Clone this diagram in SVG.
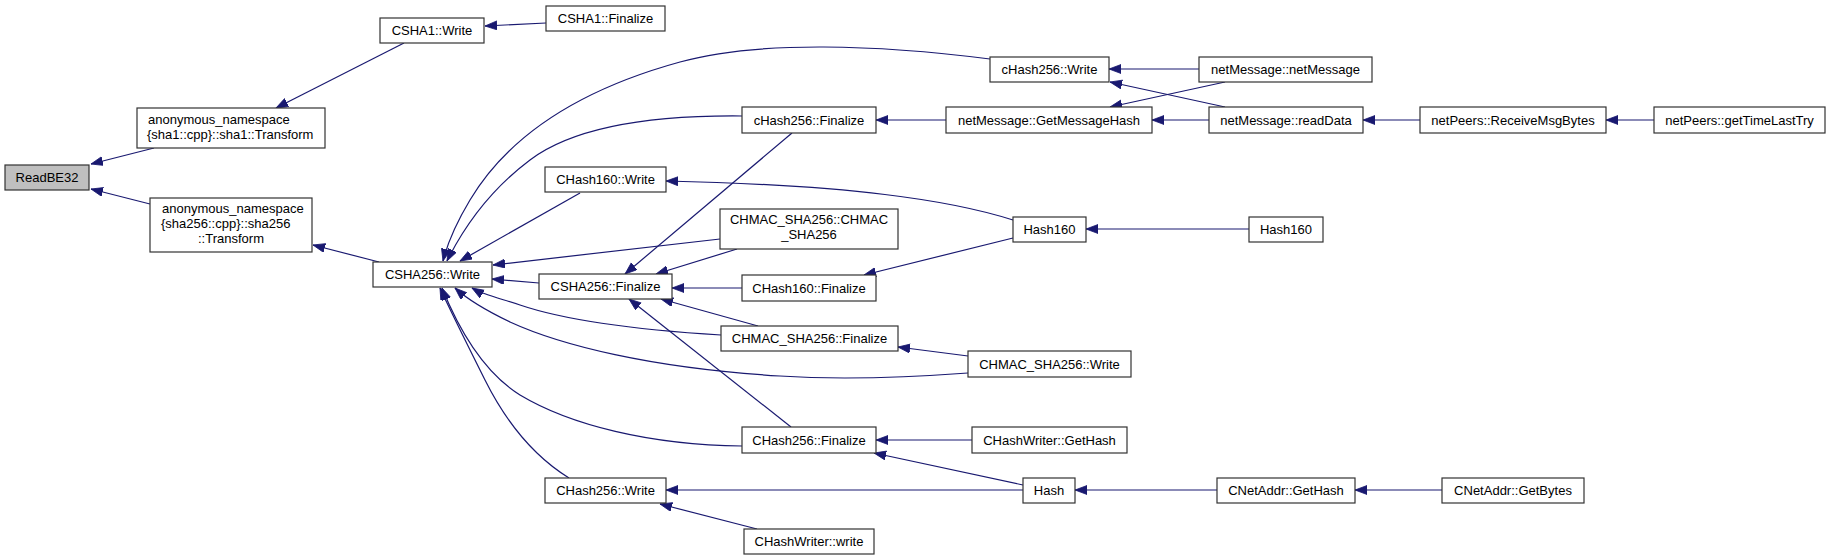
<svg xmlns="http://www.w3.org/2000/svg" width="1831" height="560" viewBox="0 0 1831 560">
<style>
.n rect{fill:#ffffff;stroke:#333333;stroke-width:1.2}
.n text{font-family:"Liberation Sans",Arial,Helvetica,sans-serif;font-size:13px;fill:#000000;text-anchor:middle}
.n text.l{text-anchor:start}
#edges path{fill:none;stroke:#191970;stroke-width:1.2;marker-end:url(#ah)}
</style>
<defs>
<marker id="ah" markerUnits="userSpaceOnUse" markerWidth="13" markerHeight="10" refX="12" refY="4.5" orient="auto">
<path d="M0,0 L12,4.5 L0,9 z" fill="#191970" stroke="#191970" stroke-width="0.8"/>
</marker>
</defs>
<rect width="1831" height="560" fill="#ffffff"/>
<g id="edges">
<path d="M154,148 L91,164"/>
<path d="M150,204 L91,189"/>
<path d="M404,43 L276,108"/>
<path d="M546,23 L485,26"/>
<path d="M379,262 L313,245"/>
<path d="M990,59 C880,45 760,40 680,62 C560,95 500,150 470,200 C455,225 447,245 443,261"/>
<path d="M742,116 C640,115 570,130 530,160 C490,190 465,225 447,261"/>
<path d="M580,193 L460,261"/>
<path d="M720,239 L493,265"/>
<path d="M539,283 L492,279"/>
<path d="M721,335 C640,330 570,322 520,305 C495,297 482,294 472,288"/>
<path d="M968,373 C900,378 840,380 780,376 C650,368 560,345 510,322 C485,310 466,298 455,288"/>
<path d="M742,446 C650,445 570,425 520,395 C480,370 455,320 442,288"/>
<path d="M569,478 C540,460 510,430 485,380 C465,340 450,310 440,288"/>
<path d="M792,133 L625,274"/>
<path d="M737,249 L656,274"/>
<path d="M742,288 L672,288"/>
<path d="M758,326 L661,299"/>
<path d="M791,427 L629,299"/>
<path d="M1199,69 L1109,69"/>
<path d="M1225,107 L1110,82"/>
<path d="M946,120 L876,120"/>
<path d="M1209,120 L1152,120"/>
<path d="M1225,82 L1110,107"/>
<path d="M1420,120 L1363,120"/>
<path d="M1654,120 L1606,120"/>
<path d="M1013,220 C950,200 850,185 666,181"/>
<path d="M1249,229 L1086,229"/>
<path d="M1013,238 L864,275"/>
<path d="M968,356 L898,347"/>
<path d="M972,440 L876,440"/>
<path d="M1023,485 L874,453"/>
<path d="M1023,490 L666,490"/>
<path d="M1217,490 L1075,490"/>
<path d="M1442,490 L1355,490"/>
<path d="M757,529 L660,504"/>
</g>
<g id="n_readbe32" class="n"><rect x="5" y="165" width="84" height="25" style="fill:#bfbfbf"/><text x="47" y="182">ReadBE32</text></g>
<g id="n_csha1_write" class="n"><rect x="380" y="18" width="104" height="25"/><text x="432" y="35">CSHA1::Write</text></g>
<g id="n_csha1_finalize" class="n"><rect x="546" y="6" width="119" height="25"/><text x="605.5" y="23">CSHA1::Finalize</text></g>
<g id="n_sha1_transform" class="n"><rect x="137" y="108" width="188" height="40"/><text class="l" x="148" y="124">anonymous_namespace</text><text class="l" x="147" y="139">{sha1::cpp}::sha1::Transform</text></g>
<g id="n_sha256_transform" class="n"><rect x="150" y="198" width="162" height="54"/><text class="l" x="162" y="213">anonymous_namespace</text><text class="l" x="161" y="228">{sha256::cpp}::sha256</text><text x="231" y="243">::Transform</text></g>
<g id="n_csha256_write" class="n"><rect x="373" y="262" width="119" height="25"/><text x="432.5" y="279">CSHA256::Write</text></g>
<g id="n_chash160_write" class="n"><rect x="545" y="167" width="121" height="25"/><text x="605.5" y="184">CHash160::Write</text></g>
<g id="n_csha256_finalize" class="n"><rect x="539" y="274" width="133" height="25"/><text x="605.5" y="291">CSHA256::Finalize</text></g>
<g id="n_chash256_write" class="n"><rect x="545" y="478" width="121" height="25"/><text x="605.5" y="495">CHash256::Write</text></g>
<g id="n_chash256l_write" class="n"><rect x="990" y="57" width="119" height="25"/><text x="1049.5" y="74">cHash256::Write</text></g>
<g id="n_chash256l_finalize" class="n"><rect x="742" y="107" width="134" height="26"/><text x="809" y="125">cHash256::Finalize</text></g>
<g id="n_getmessagehash" class="n"><rect x="946" y="107" width="206" height="26"/><text x="1049" y="125">netMessage::GetMessageHash</text></g>
<g id="n_netmessage" class="n"><rect x="1199" y="57" width="173" height="25"/><text x="1285.5" y="74">netMessage::netMessage</text></g>
<g id="n_readdata" class="n"><rect x="1209" y="107" width="154" height="26"/><text x="1286" y="125">netMessage::readData</text></g>
<g id="n_receivemsgbytes" class="n"><rect x="1420" y="107" width="186" height="26"/><text x="1513" y="125">netPeers::ReceiveMsgBytes</text></g>
<g id="n_gettimelasttry" class="n"><rect x="1654" y="107" width="171" height="26"/><text x="1739.5" y="125">netPeers::getTimeLastTry</text></g>
<g id="n_chmac_ctor" class="n"><rect x="720" y="209" width="178" height="40"/><text x="809" y="224">CHMAC_SHA256::CHMAC</text><text x="809" y="239">_SHA256</text></g>
<g id="n_hash160_mid" class="n"><rect x="1013" y="217" width="73" height="25"/><text x="1049.5" y="234">Hash160</text></g>
<g id="n_hash160_right" class="n"><rect x="1249" y="217" width="74" height="25"/><text x="1286" y="234">Hash160</text></g>
<g id="n_chash160_finalize" class="n"><rect x="742" y="275" width="134" height="26"/><text x="809" y="293">CHash160::Finalize</text></g>
<g id="n_chmac_finalize" class="n"><rect x="721" y="326" width="177" height="25"/><text x="809.5" y="343">CHMAC_SHA256::Finalize</text></g>
<g id="n_chmac_write" class="n"><rect x="968" y="351" width="163" height="26"/><text x="1049.5" y="369">CHMAC_SHA256::Write</text></g>
<g id="n_chash256_finalize" class="n"><rect x="742" y="427" width="134" height="26"/><text x="809" y="445">CHash256::Finalize</text></g>
<g id="n_chashwriter_gethash" class="n"><rect x="972" y="427" width="155" height="26"/><text x="1049.5" y="445">CHashWriter::GetHash</text></g>
<g id="n_hash" class="n"><rect x="1023" y="478" width="52" height="25"/><text x="1049" y="495">Hash</text></g>
<g id="n_cnetaddr_gethash" class="n"><rect x="1217" y="478" width="138" height="25"/><text x="1286" y="495">CNetAddr::GetHash</text></g>
<g id="n_cnetaddr_getbytes" class="n"><rect x="1442" y="478" width="142" height="25"/><text x="1513" y="495">CNetAddr::GetBytes</text></g>
<g id="n_chashwriter_write" class="n"><rect x="744" y="529" width="130" height="25"/><text x="809" y="546">CHashWriter::write</text></g>
</svg>
